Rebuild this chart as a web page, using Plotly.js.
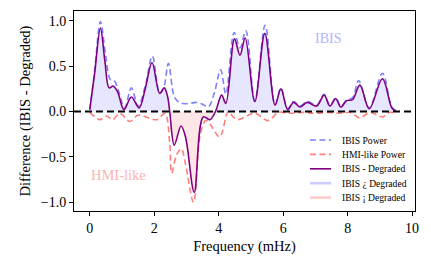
<!DOCTYPE html>
<html>
<head>
<meta charset="utf-8">
<script src="https://cdn.plot.ly/plotly-3.0.1.min.js"></script>
<style>html,body{margin:0;padding:0;background:#fff}#chart{width:431px;height:269px}</style>
</head>
<body>
<div id="chart"></div>
<script>
// IBIS power (blue dashed)
const freqIbis = [0, 0.15, 0.33, 0.5, 0.64, 0.76, 0.88, 1.08, 1.29, 1.5, 1.72, 1.94, 2.17, 2.3, 2.44, 2.64, 2.85, 3.1, 3.3, 3.5, 3.68, 3.86, 4.06, 4.22, 4.48, 4.66, 4.84, 5.12, 5.44, 5.75, 5.93, 6.14, 6.32, 6.52, 6.75, 7.04, 7.27, 7.45, 7.63, 7.79, 7.97, 8.15, 8.34, 8.67, 9.08, 9.37, 9.5];
const ibisPower = [0.02, 0.45, 0.99, 0.6, 0.35, 0.34, 0.24, 0.04, 0.26, 0.06, 0.28, 0.61, 0.2, 0.27, 0.53, 0.15, 0.09, 0.09, 0.1, 0.08, 0.05, 0.2, 0.46, 0.19, 0.87, 0.7, 0.89, 0.12, 0.95, 0.08, 0.26, 0.03, 0.11, 0.06, 0.11, 0.07, 0.19, 0.07, 0.15, 0.06, 0.13, 0.15, 0.34, 0.04, 0.42, 0.05, 0.01];
// HMI-like power (red dashed)
const freqHmi = [0, 0.31, 0.52, 0.71, 0.93, 1.24, 1.5, 1.82, 2.09, 2.33, 2.48, 2.54, 2.69, 2.84, 2.97, 3.22, 3.42, 3.6, 3.75, 4.03, 4.3, 4.45, 4.6, 4.86, 5.12, 5.54, 5.85, 6.2, 6.6, 7.0, 7.4, 7.8, 8.1, 8.37, 8.7, 9.08, 9.3, 9.5];
const hmiPower = [-0.01, -0.09, -0.05, -0.09, -0.02, -0.11, -0.04, -0.07, -0.09, -0.02, -0.35, -0.68, -0.48, -0.41, -0.58, -1.0, -0.27, -0.1, -0.15, -0.28, 0.0, -0.06, -0.09, -0.05, -0.02, -0.1, -0.01, -0.02, -0.01, -0.02, -0.01, -0.02, -0.01, -0.07, -0.01, -0.06, -0.01, -0.02];
// IBIS - Degraded (purple solid)
const freqDiff = [0, 0.15, 0.33, 0.47, 0.6, 0.72, 0.86, 1.06, 1.29, 1.53, 1.72, 1.93, 2.17, 2.31, 2.41, 2.48, 2.62, 2.83, 2.97, 3.24, 3.52, 3.73, 3.9, 4.09, 4.22, 4.49, 4.66, 4.82, 5.12, 5.43, 5.75, 5.93, 6.14, 6.32, 6.52, 6.75, 7.04, 7.27, 7.45, 7.63, 7.79, 7.97, 8.15, 8.38, 8.67, 9.08, 9.37, 9.5];
const diffVals = [0.02, 0.42, 0.92, 0.55, 0.26, 0.28, 0.22, 0.02, 0.16, 0.04, 0.25, 0.54, 0.2, 0.26, 0.17, 0.0, -0.37, -0.16, -0.28, -0.89, -0.06, -0.09, 0.0, 0.18, 0.09, 0.8, 0.62, 0.81, 0.11, 0.86, 0.07, 0.25, 0.02, 0.1, 0.05, 0.1, 0.06, 0.18, 0.06, 0.14, 0.05, 0.12, 0.13, 0.29, 0.03, 0.36, 0.04, 0.0];

const xTicks = [0, 2, 4, 6, 8, 10];
const yTicks = [-1.0, -0.5, 0.0, 0.5, 1.0];
const yTickText = ['\u22121.0', '\u22120.5', '0.0', '0.5', '1.0'];
const legendNames = ['IBIS Power', 'HMI-like Power', 'IBIS - Degraded', 'IBIS \u00bf Degraded', 'IBIS \u00a1 Degraded'];

const posPart = diffVals.map(v => Math.max(v, 0));
const negPart = diffVals.map(v => Math.min(v, 0));
const FONT = '"Liberation Serif", "Times New Roman", serif';

const styles = [
  {color: '#7f7fff', width: 1.6, dash: '6px,3.5px'},
  {color: '#ff7f7f', width: 1.6, dash: '6px,3.5px'},
  {color: '#800080', width: 1.6, dash: 'solid'},
  {color: '#ccccff', width: 2.6, dash: 'solid'},
  {color: '#ffcccc', width: 2.6, dash: 'solid'}
];

const traces = [
  {x: freqDiff, y: posPart, mode: 'lines', line: {width: 0, shape: 'spline'}, fill: 'tozeroy', fillcolor: '#e6e6ff', showlegend: false, hoverinfo: 'skip'},
  {x: freqDiff, y: negPart, mode: 'lines', line: {width: 0, shape: 'spline'}, fill: 'tozeroy', fillcolor: '#ffe6e6', showlegend: false, hoverinfo: 'skip'},
  {x: freqIbis, y: ibisPower, mode: 'lines', name: legendNames[0], line: Object.assign({shape: 'spline'}, styles[0]), showlegend: false},
  {x: freqHmi, y: hmiPower, mode: 'lines', name: legendNames[1], line: Object.assign({shape: 'spline'}, styles[1]), showlegend: false},
  {x: freqDiff, y: diffVals, mode: 'lines', name: legendNames[2], line: Object.assign({shape: 'spline'}, styles[2]), showlegend: false}
];

// manual legend (paper coordinates)
const legRowsY = [0.355, 0.283, 0.211, 0.139, 0.067];
const legShapes = legRowsY.map((yy, i) => ({
  type: 'line', xref: 'paper', yref: 'paper', x0: 0.692, x1: 0.754, y0: yy, y1: yy, layer: 'above',
  line: {color: styles[i].color, width: styles[i].width, dash: styles[i].dash}
}));
const legTexts = legRowsY.map((yy, i) => ({
  xref: 'paper', yref: 'paper', x: 0.78, y: yy, xanchor: 'left', yanchor: 'middle', showarrow: false,
  text: legendNames[i], font: {family: FONT, size: 9.6, color: '#000'}
}));

const layout = {
  width: 431, height: 269,
  margin: {l: 74, r: 16, t: 11, b: 58},
  paper_bgcolor: '#ffffff', plot_bgcolor: '#ffffff',
  font: {family: FONT, size: 14, color: '#000'},
  showlegend: false,
  xaxis: {
    range: [-0.49, 10.09], tickvals: xTicks, ticktext: xTicks.map(String),
    ticks: 'outside', ticklen: 4, tickwidth: 1, tickcolor: '#000',
    showline: true, mirror: true, linecolor: '#000', linewidth: 1,
    showgrid: false, zeroline: false,
    tickfont: {family: FONT, size: 14},
    title: {text: 'Frequency (mHz)', font: {family: FONT, size: 14.5}, standoff: 6}
  },
  yaxis: {
    range: [-1.096, 1.107], tickvals: yTicks, ticktext: yTickText,
    ticks: 'outside', ticklen: 4, tickwidth: 1, tickcolor: '#000',
    showline: true, mirror: true, linecolor: '#000', linewidth: 1,
    showgrid: false, zeroline: false,
    tickfont: {family: FONT, size: 14},
    title: {text: 'Difference (IBIS - Degraded)', font: {family: FONT, size: 14.5}, standoff: 6}
  },
  shapes: [
    {type: 'line', xref: 'paper', yref: 'y', x0: 0, x1: 1, y0: 0, y1: 0, layer: 'above', line: {color: '#000', width: 2, dash: '7px,4px'}}
  ].concat(legShapes),
  annotations: [
    {x: 7.4, y: 0.8, xref: 'x', yref: 'y', text: 'IBIS', showarrow: false, font: {family: FONT, size: 14, color: '#b3b3ff'}},
    {x: 0.88, y: -0.7, xref: 'x', yref: 'y', text: 'HMI-like', showarrow: false, font: {family: FONT, size: 14.5, color: '#ffb3b3'}}
  ].concat(legTexts)
};

Plotly.newPlot('chart', traces, layout, {displayModeBar: false, staticPlot: true});
</script>
</body>
</html>
